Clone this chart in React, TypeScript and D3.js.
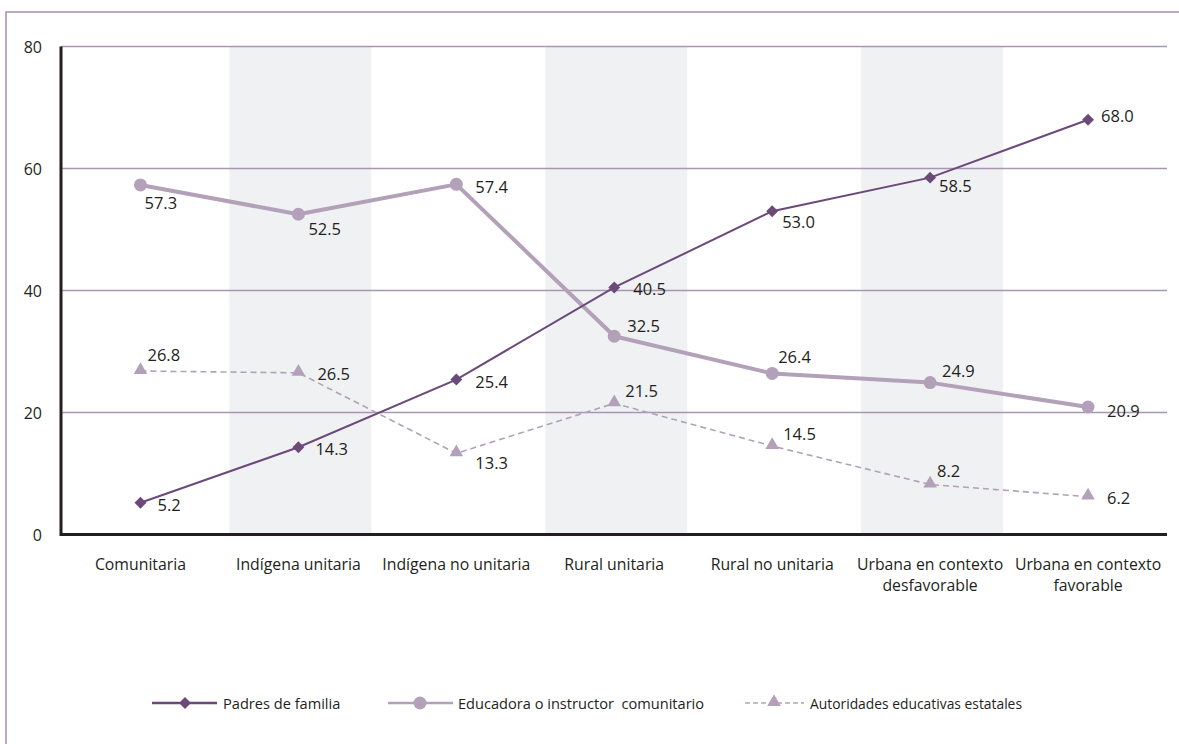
import React from "react";
import * as d3 from "d3";

const categories: string[][] = [
  ["Comunitaria"],
  ["Indígena unitaria"],
  ["Indígena no unitaria"],
  ["Rural unitaria"],
  ["Rural no unitaria"],
  ["Urbana en contexto", "desfavorable"],
  ["Urbana en contexto", "favorable"],
];
const padres = [5.2, 14.3, 25.4, 40.5, 53.0, 58.5, 68.0];
const educadora = [57.3, 52.5, 57.4, 32.5, 26.4, 24.9, 20.9];
const autoridades = [26.8, 26.5, 13.3, 21.5, 14.5, 8.2, 6.2];
const yTicks = [0, 20, 40, 60, 80];
const shadedIdx = [1, 3, 5];

const seriesNames = {
  padres: "Padres de familia",
  educadora: "Educadora o instructor\u00a0 comunitario",
  autoridades: "Autoridades educativas estatales",
};

// value-label placement relative to each point: [dx, dy]
const padresLabelPos = [[17, 2], [17, 1], [19, 2], [19, 1], [10, 10], [9, 8], [13, -4]];
const educadoraLabelPos = [[4, 18], [10, 14], [19, 2], [13, -11], [6, -17], [12, -12], [19, 3]];
const autoridadesLabelPos = [[7, -17], [19, 1], [19, 9], [11, -13], [11, -13], [7, -14], [19, 1]];

const W = 1179;
const H = 744;
const FONT = "'Open Sans', 'Noto Sans', sans-serif";
const TEXT = "#231f20";
const DARK = "#6b4a7a";
const LIGHT = "#b3a1b9";
const GRID = "#a996b2";

export default function App() {
  const keys = categories.map((c) => c.join(" "));
  const x = d3.scaleBand<string>().domain(keys).range([61.5, 1167]).padding(0);
  const y = d3.scaleLinear().domain([0, 80]).range([534.5, 46.5]);
  const cx = (i: number) => (x(keys[i]) as number) + x.bandwidth() / 2;

  const line = d3
    .line<number>()
    .x((_, i) => cx(i))
    .y((d) => y(d));

  const diamond = d3.symbol().type(d3.symbolDiamond2).size(90)() as string;
  const triangle = d3.symbol().type(d3.symbolTriangle).size(80)() as string;

  const labels = (vals: number[], pos: number[][], key: string) =>
    vals.map((v, i) => (
      <text
        key={key + i}
        x={cx(i) + pos[i][0]}
        y={y(v) + pos[i][1]}
        dominantBaseline="central"
        fontSize={16.5}
        fill={TEXT}
      >
        {v.toFixed(1)}
      </text>
    ));

  const legendY = 703;

  return (
    <svg
      width={W}
      height={H}
      style={{ position: "absolute", left: 0, top: 0, background: "#fff" }}
      fontFamily={FONT}
    >
      {/* outer frame */}
      <rect x={6} y={12} width={W + 20} height={H + 20} fill="none" stroke={GRID} strokeWidth={1.6} />

      {/* alternating category shading */}
      {shadedIdx.map((i) => (
        <rect
          key={"s" + i}
          x={(x(keys[i]) as number) + 10}
          y={y(80)}
          width={x.bandwidth() - 16}
          height={y(0) - y(80)}
          fill="#f0f1f3"
        />
      ))}

      {/* gridlines */}
      {yTicks
        .filter((t) => t > 0)
        .map((t) => (
          <line key={"g" + t} x1={61} x2={1167} y1={y(t)} y2={y(t)} stroke={GRID} strokeWidth={1.5} />
        ))}

      {/* axes */}
      <line x1={61} x2={61} y1={y(80)} y2={y(0) + 1.5} stroke={TEXT} strokeWidth={3} />
      <line x1={61} x2={1167} y1={y(0)} y2={y(0)} stroke={TEXT} strokeWidth={3} />

      {yTicks.map((t) => (
        <text key={"yt" + t} x={42} y={y(t)} textAnchor="end" dominantBaseline="central" fontSize={16} fill={TEXT}>
          {t}
        </text>
      ))}

      {categories.map((c, i) =>
        c.map((ln, j) => (
          <text
            key={"xl" + i + j}
            x={cx(i)}
            y={564 + j * 21}
            textAnchor="middle"
            dominantBaseline="central"
            fontSize={15.8}
            fill={TEXT}
          >
            {ln}
          </text>
        ))
      )}

      {/* Educadora o instructor comunitario */}
      <path d={line(educadora) as string} fill="none" stroke={LIGHT} strokeWidth={4} strokeLinejoin="round" />
      {educadora.map((v, i) => (
        <circle key={"ec" + i} cx={cx(i)} cy={y(v)} r={6.5} fill={LIGHT} />
      ))}

      {/* Autoridades educativas estatales */}
      <path d={line(autoridades) as string} fill="none" stroke={LIGHT} strokeWidth={1.6} strokeDasharray="6 4" />
      {autoridades.map((v, i) => (
        <path key={"at" + i} d={triangle} transform={`translate(${cx(i)},${y(v) - 1})`} fill={LIGHT} />
      ))}

      {/* Padres de familia */}
      <path d={line(padres) as string} fill="none" stroke={DARK} strokeWidth={2} />
      {padres.map((v, i) => (
        <path key={"pd" + i} d={diamond} transform={`translate(${cx(i)},${y(v)})`} fill={DARK} />
      ))}

      {labels(padres, padresLabelPos, "pl")}
      {labels(educadora, educadoraLabelPos, "el")}
      {labels(autoridades, autoridadesLabelPos, "al")}

      {/* legend */}
      <g>
        <line x1={152} x2={217} y1={legendY} y2={legendY} stroke={DARK} strokeWidth={2.5} />
        <path d={diamond} transform={`translate(185,${legendY})`} fill={DARK} />
        <text x={223} y={legendY} dominantBaseline="central" fontSize={14.6} fill={TEXT}>
          {seriesNames.padres}
        </text>

        <line x1={388} x2={453} y1={legendY} y2={legendY} stroke={LIGHT} strokeWidth={2.5} />
        <circle cx={420} cy={legendY} r={6.5} fill={LIGHT} />
        <text x={458} y={legendY} dominantBaseline="central" fontSize={14.6} fill={TEXT}>
          {seriesNames.educadora}
        </text>

        <line x1={745} x2={804} y1={legendY} y2={legendY} stroke={LIGHT} strokeWidth={1.6} strokeDasharray="5 3" />
        <path d={triangle} transform={`translate(774,${legendY - 1})`} fill={LIGHT} />
        <text
          x={810}
          y={legendY}
          dominantBaseline="central"
          fontSize={14.6}
          fill={TEXT}
          textLength={212}
          lengthAdjust="spacingAndGlyphs"
        >
          {seriesNames.autoridades}
        </text>
      </g>
    </svg>
  );
}
